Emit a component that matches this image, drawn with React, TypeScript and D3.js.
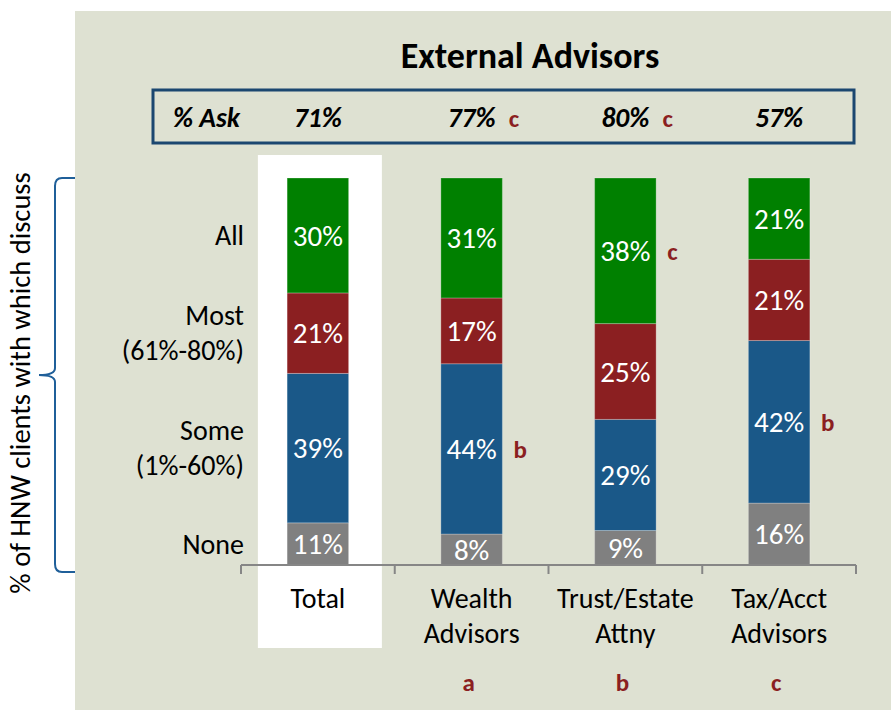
import React from 'react';
import * as d3 from 'd3';

const categories = ['Total', 'Wealth Advisors', 'Trust/Estate Attny', 'Tax/Acct Advisors'];
const categoryLines = [['Total'], ['Wealth', 'Advisors'], ['Trust/Estate', 'Attny'], ['Tax/Acct', 'Advisors']];
const columnLetters = ['', 'a', 'b', 'c'];

const levels = ['None', 'Some', 'Most', 'All'];
const levelLines = [['None'], ['Some', '(1%-60%)'], ['Most', '(61%-80%)'], ['All']];
const levelColors = ['#808080', '#1a5888', '#8b1f21', '#008000'];

const noneValues = [11, 8, 9, 16];
const someValues = [39, 44, 29, 42];
const mostValues = [21, 17, 25, 21];
const allValues = [30, 31, 38, 21];

const askValues = [71, 77, 80, 57];
const askMarks = ['', 'c', 'c', ''];

// significance letters next to a segment
const segmentMarks = [
  { category: 'Wealth Advisors', level: 'Some', mark: 'b' },
  { category: 'Trust/Estate Attny', level: 'All', mark: 'c' },
  { category: 'Tax/Acct Advisors', level: 'Some', mark: 'b' },
];

const font = 'Carlito, Calibri, Lato, sans-serif';
const markColor = '#8b1f21';

function App() {
  const width = 891;
  const height = 710;

  const rows = categories.map((c, i) => ({
    category: c,
    None: noneValues[i],
    Some: someValues[i],
    Most: mostValues[i],
    All: allValues[i],
  }));

  const series = d3.stack<any>().keys(levels).offset(d3.stackOffsetExpand)(rows);

  const x = d3.scaleBand().domain(categories).range([241, 856]).paddingInner(0.6).paddingOuter(0.3);
  const y = d3.scaleLinear().domain([0, 1]).range([565, 178]);
  const step = x.step();
  const axisStart = x.range()[0];
  const axisEnd = x.range()[1];
  const cx = (c: string) => (x(c) as number) + x.bandwidth() / 2;

  const seg = (level: string, category: string) => {
    const s = series.find(d => d.key === level)!;
    return s[categories.indexOf(category)];
  };

  return (
    <svg width={width} height={height} style={{ position: 'absolute', left: 0, top: 0 }} fontFamily={font}>
      <rect x={0} y={0} width={width} height={height} fill="#fff" />
      <rect x={75} y={11} width={816} height={699} fill="#dee1d2" />

      {/* white panel behind Total */}
      <rect x={cx('Total') - 60} y={155} width={124} height={493} fill="#fff" />

      <text x={530} y={68} textAnchor="middle" fontSize={36} fontWeight="bold" fill="#000">External Advisors</text>

      <rect x={153} y={90} width={701} height={53} fill="none" stroke="#1b4770" strokeWidth={3} />
      <text x={173} y={127} fontSize={27.5} fontWeight="bold" fontStyle="italic">% Ask</text>
      {categories.map((c, i) => (
        <g key={c}>
          <text x={cx(c)} y={127} textAnchor="middle" fontSize={27.5} fontWeight="bold" fontStyle="italic">{askValues[i]}%</text>
          {askMarks[i] && (
            <text x={cx(c) + 37} y={127} fontSize={25} fontWeight="bold" fill={markColor}>{askMarks[i]}</text>
          )}
        </g>
      ))}

      {series.map((s, li) => (
        <g key={s.key}>
          {s.map((d, ci) => (
            <g key={categories[ci]}>
              <rect x={x(categories[ci])} y={y(d[1])} width={x.bandwidth()} height={y(d[0]) - y(d[1])}
                fill={levelColors[li]} stroke="#ffffff" strokeOpacity={0.25} strokeWidth={1} />
              <text x={cx(categories[ci])} y={(y(d[0]) + y(d[1])) / 2} dy="0.35em" textAnchor="middle"
                fontSize={29} fill="#fff">{(d.data as any)[s.key]}%</text>
            </g>
          ))}
        </g>
      ))}

      {segmentMarks.map(m => {
        const d = seg(m.level, m.category);
        return (
          <text key={m.category + m.level} x={(x(m.category) as number) + x.bandwidth() + 11}
            y={(y(d[0]) + y(d[1])) / 2} dy="0.35em" fontSize={25} fontWeight="bold" fill={markColor}>{m.mark}</text>
        );
      })}

      {/* level labels aligned to the Total bar segments */}
      {levels.map((l, li) => {
        const d = seg(l, 'Total');
        const mid = (y(d[0]) + y(d[1])) / 2;
        const lines = levelLines[li];
        return (
          <text key={l} x={244} textAnchor="end" fontSize={28} fill="#000">
            {lines.map((t, k) => (
              <tspan key={t} x={244} y={mid + (k - (lines.length - 1) / 2) * 35} dy="0.35em">{t}</tspan>
            ))}
          </text>
        );
      })}

      {/* category axis */}
      <line x1={axisStart} x2={axisEnd} y1={565} y2={565} stroke="#868686" strokeWidth={2} />
      {d3.range(categories.length + 1).map(i => (
        <line key={i} x1={axisStart + i * step} x2={axisStart + i * step} y1={565} y2={574} stroke="#868686" strokeWidth={2} />
      ))}
      {categories.map((c, i) => (
        <text key={c} textAnchor="middle" fontSize={28} fill="#000">
          {categoryLines[i].map((t, k) => (
            <tspan key={t} x={cx(c)} y={608 + k * 35}>{t}</tspan>
          ))}
        </text>
      ))}
      {categories.map((c, i) => (
        <text key={c} x={cx(c) - 3} y={691} textAnchor="middle" fontSize={25} fontWeight="bold" fill={markColor}>{columnLetters[i]}</text>
      ))}

      {/* bracket and rotated label */}
      <path d="M75,178 L62,178 Q55,178 55,186 L55,368 Q55,375 39,375 Q55,375 55,382 L55,564 Q55,572 62,572 L75,572"
        fill="none" stroke="#1f5f99" strokeWidth={2} />
      <text transform="translate(30,383) rotate(-90)" textAnchor="middle" fontSize={28.5} fill="#000">% of HNW clients with which discuss</text>
    </svg>
  );
}

export default App;
